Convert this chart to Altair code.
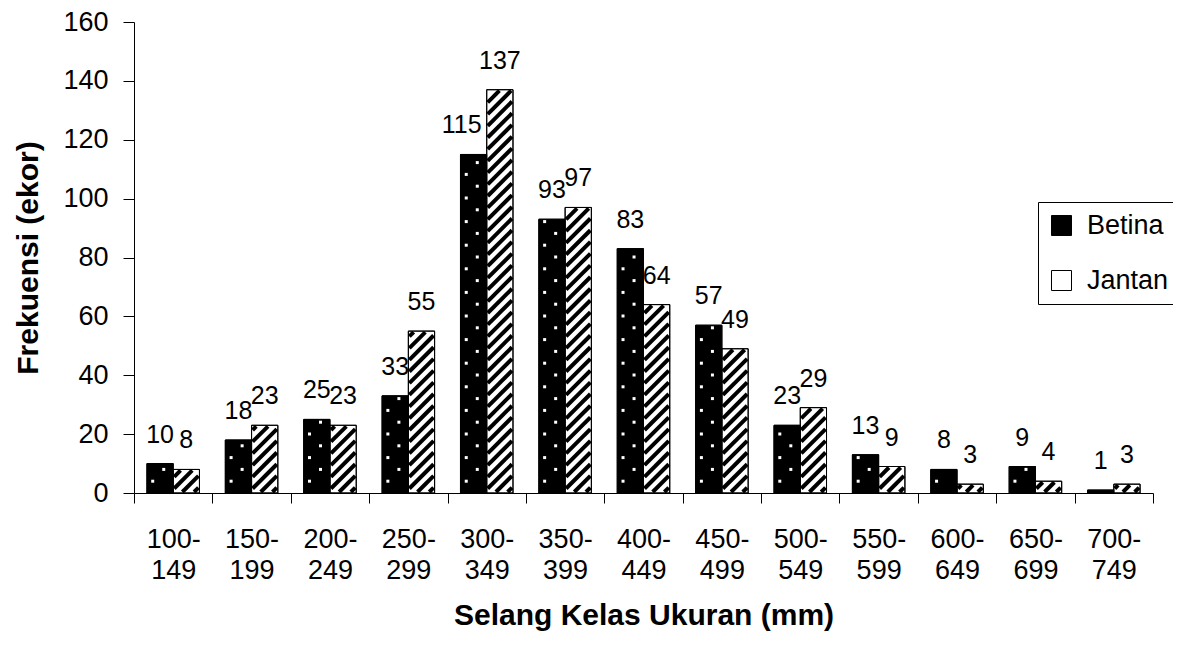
import altair as alt
import pandas as pd

# ---------------- data ----------------
categories = ["100-149", "150-199", "200-249", "250-299", "300-349", "350-399",
              "400-449", "450-499", "500-549", "550-599", "600-649", "650-699", "700-749"]
betina = [10, 18, 25, 33, 115, 93, 83, 57, 23, 13, 8, 9, 1]
jantan = [8, 23, 23, 55, 137, 97, 64, 49, 29, 9, 3, 4, 3]
series_names = ["Betina", "Jantan"]
series_fill = ["#000000", "#ffffff"]
y_ticks = [0, 20, 40, 60, 80, 100, 120, 140, 160]

# ---------------- geometry / style ----------------
W, H = 1019, 471
NCAT = len(categories)
YMAX = 160
XU = W / NCAT          # px per x unit (one category)
YU = H / YMAX          # px per y unit
GAP = 0.165            # left gap inside category (x units)
BW = 0.335             # bar width (x units)
FONT = "Liberation Sans"

# stripe pattern (45 deg, upward to the right)
S = XU / YU                 # y units per x unit for 45 deg
PD = 11.7 / YU              # vertical period in y units
IX = 1.0 / XU
IY = 1.0 / YU
# dot pattern
DD = 11.8 / YU

rows = []
for i, c in enumerate(categories):
    rows.append({"idx": i, "cat": c, "series": series_names[0], "value": betina[i]})
    rows.append({"idx": i, "cat": c, "series": series_names[1], "value": jantan[i]})
df = pd.DataFrame(rows)

lbl_arr = "[" + ",".join("'" + c + "'" for c in categories) + "]"

xaxis = alt.Axis(
    values=[k * 0.5 for k in range(2 * NCAT + 1)],
    labelExpr=f"datum.value % 1 === 0 ? '' : split(replace({lbl_arr}[floor(datum.value)], '-', '-|'), '|')",
    tickOpacity={"condition": {"test": "datum.value % 1 === 0", "value": 1}, "value": 0},
    tickSize=10, tickColor="black", tickWidth=1,
    domainColor="black", domainWidth=1,
    labelFont=FONT, labelFontSize=27, labelColor="black",
    labelPadding=23, labelOverlap=False, labelFlush=False, labelBound=False,
    labelLineHeight=31, labelBaseline="top",
    titleFont=FONT, titleFontSize=30, titleFontWeight="bold", titleColor="black",
    titlePadding=17, grid=False,
)
yaxis = alt.Axis(
    values=y_ticks, grid=False,
    tickSize=11, tickColor="black", tickWidth=1,
    domainColor="black", domainWidth=1,
    labelFont=FONT, labelFontSize=27, labelColor="black", labelPadding=15,
    titleFont=FONT, titleFontSize=30, titleFontWeight="bold", titleColor="black",
    titlePadding=19,
)
xscale = alt.Scale(domain=[0, NCAT], nice=False, zero=False)
yscale = alt.Scale(domain=[0, YMAX], nice=False)
XTITLE = "Selang Kelas Ukuran (mm)"
YTITLE = "Frekuensi (ekor)"


def X(f):
    return alt.X(f, type="quantitative", scale=xscale, axis=xaxis, title=XTITLE)


def Y(f):
    return alt.Y(f, type="quantitative", scale=yscale, axis=yaxis, title=YTITLE)


base = alt.Chart(df).transform_calculate(
    x0=f"datum.idx + {GAP} + (datum.series === '{series_names[1]}' ? {BW} : 0)"
).transform_calculate(
    x1=f"datum.x0 + {BW}"
)

bars = base.mark_bar(stroke="black", strokeWidth=1).encode(
    x=X("x0"), x2="x1:Q",
    y=Y("value"), y2=alt.datum(0),
    fill=alt.Fill("series:N",
                  scale=alt.Scale(domain=series_names, range=series_fill),
                  legend=alt.Legend(
                      title=None, orient="none", legendX=904, legendY=180,
                      symbolType="square", symbolSize=400,
                      symbolStrokeColor="black", symbolStrokeWidth=1,
                      labelFont=FONT, labelFontSize=27, labelColor="black",
                      labelOffset=12, padding=10, rowPadding=27,
                      strokeColor="black", fillColor="white",
                  )),
)

# white dots on Betina bars
dots = base.transform_filter(
    f"datum.series === '{series_names[0]}'"
).transform_calculate(
    ks=f"sequence(1, floor(datum.value / {DD}) + 1)"
).transform_flatten(["ks"], as_=["k"]).transform_calculate(
    dy_=f"datum.k * {DD}",
    dx_=f"datum.x0 + (datum.k % 2 === 1 ? 0.22 : 0.64) * {BW}",
).transform_filter(
    f"datum.dy_ <= datum.value - {1.5 / YU}"
).mark_square(color="white", size=9, opacity=1).encode(
    x=X("dx_"), y=Y("dy_"),
)

# diagonal stripes on Jantan bars
stripes = base.transform_filter(
    f"datum.series === '{series_names[1]}'"
).transform_calculate(
    ks=f"sequence(-ceil({BW * S} / {PD}) - 1, ceil(datum.value / {PD}) + 1)"
).transform_flatten(["ks"], as_=["k"]).transform_calculate(
    c=f"datum.k * {PD} + {PD * 0.3}",
).transform_calculate(
    xa=f"max(datum.x0 + {IX}, datum.x0 + ({IY} - datum.c) / {S})",
    xb=f"min(datum.x1 - {IX}, datum.x0 + (datum.value - {IY} - datum.c) / {S})",
).transform_calculate(
    ya=f"datum.c + (datum.xa - datum.x0) * {S}",
    yb=f"datum.c + (datum.xb - datum.x0) * {S}",
).transform_filter(
    "datum.xa < datum.xb"
).mark_rule(color="black", strokeWidth=4, strokeCap="butt").encode(
    x=X("xa"), x2="xb:Q", y=Y("ya"), y2="yb:Q",
)

outline = base.mark_bar(fillOpacity=0, stroke="black", strokeWidth=1).encode(
    x=X("x0"), x2="x1:Q", y=Y("value"), y2=alt.datum(0),
)

labels = base.transform_calculate(
    lx=f"datum.x0 + {BW / 2} - ((datum.series === '{series_names[0]}' && datum.value >= 100) ? {12 / XU} : 0)"
).mark_text(font=FONT, fontSize=25, color="black", baseline="alphabetic", dy=-21).encode(
    x=X("lx"), y=Y("value"), text="value:Q",
)

chart = alt.layer(bars, dots, stripes, outline, labels).properties(
    width=W, height=H,
    autosize=alt.AutoSizeParams(type="none"),
    padding={"left": 126, "top": 14, "right": 20, "bottom": 140},
    background="white",
).configure(font=FONT).configure_view(stroke="transparent")

chart.save("out.html", embed_options={"renderer": "svg", "actions": False})
